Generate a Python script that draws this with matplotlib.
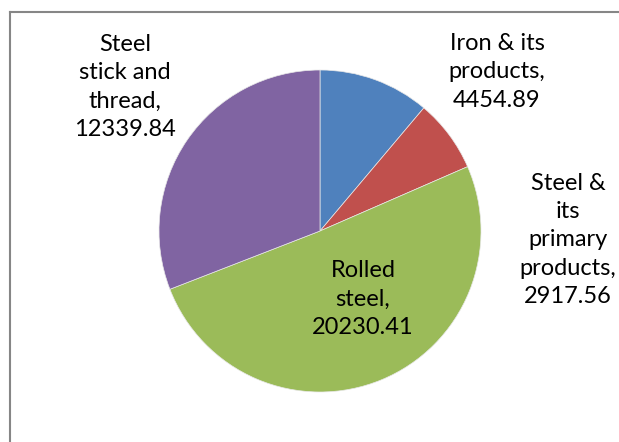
import matplotlib
matplotlib.use("Agg")
import matplotlib.pyplot as plt
from matplotlib.lines import Line2D

matplotlib.rcParams.update({
    "font.family": ["Lato", "DejaVu Sans"],
    "font.size": 17,
})

LABELS = ["Iron & its\nproducts,\n4454.89",
          "Steel &\nits\nprimary\nproducts,\n2917.56",
          "Rolled\nsteel,\n20230.41",
          "Steel\nstick and\nthread,\n12339.84"]
VALUES = [4454.89, 2917.56, 20230.41, 12339.84]
COLORS = ["#4F81BD", "#C0504D", "#9BBB59", "#8064A2"]

# label centres in pixel coords (from top-left)
LABEL_POS = [(497, 72), (568, 240), (363, 299), (125, 87)]

W, H = 619, 442
fig = plt.figure(figsize=(W / 100, H / 100), dpi=100)
ax = fig.add_axes([0, 0, 1, 1])

cx, cy, r = 320, H - 231, 161
ax.pie(VALUES, colors=COLORS, startangle=90, counterclock=False,
       center=(cx, cy), radius=r,
       wedgeprops=dict(edgecolor="#e8e8e8", linewidth=0.5))

for lab, (px, py) in zip(LABELS, LABEL_POS):
    ax.text(px, H - py, lab, ha="center", va="center",
            linespacing=1.42, color="black")

# chart area border (clipped on right and bottom)
ax.add_line(Line2D([9.5, 9.5], [0, H - 12], color="#868686", lw=1.5))
ax.add_line(Line2D([9.5, W], [H - 12, H - 12], color="#868686", lw=1.5))

ax.set_xlim(0, W)
ax.set_ylim(0, H)
ax.set_aspect("equal")
ax.axis("off")

fig.savefig("out.png", dpi=100)
